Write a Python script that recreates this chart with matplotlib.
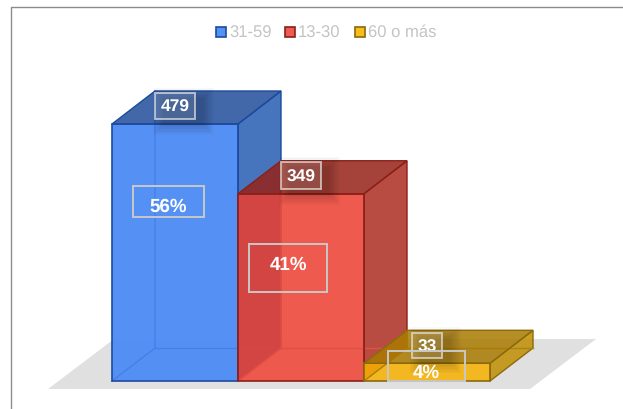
import matplotlib
matplotlib.use('Agg')
import matplotlib.pyplot as plt
from matplotlib.patches import Polygon, Rectangle
from matplotlib.transforms import Affine2D

plt.rcParams['font.family'] = ['Liberation Sans', 'DejaVu Sans']
plt.rcParams['text.hinting'] = 'none'

categories = ['31-59', '13-30', '60 o más']
values = [479, 349, 33]
percents = ['56%', '41%', '4%']

# base colours, all faces get ALPHA so that what is behind shows through
front_colors = ['#377ef3', '#eb3d2e', '#f7b000']
top_colors = ['#214e9a', '#952218', '#a97a00']
side_colors = ['#275db2', '#ad2d21', '#c08e00']
edge_colors = ['#1c4a9e', '#8a2018', '#8a6a0c']
back_colors = ['#4580ea', '#e24f43', '#a88410']
legend_colors = ['#5591f5', '#ee5a4d', '#f8bc1c']
ALPHA = 0.85

W, H = 623, 409
BAR_PX = 126.0
UNIT_PX = 257.0 / 479
X0_PX = 112.0
Y0_PX = 381.0
DEPTH_X = 43.0 / BAR_PX
DEPTH_Y = 33.0 / UNIT_PX

fig = plt.figure(figsize=(W / 100, H / 100), dpi=100)
ax = fig.add_axes([0, 0, 1, 1])
ax.set_xlim(-X0_PX / BAR_PX, (W - X0_PX) / BAR_PX)
ax.set_ylim(-(H - Y0_PX) / UNIT_PX, Y0_PX / UNIT_PX)
ax.axis('off')

# pixel coords, y going down, for the things that are not data
px = Affine2D().scale(1, -1).translate(0, H)

# frame
ax.plot([10.5, 10.5, W], [H, 6.5, 6.5], color='#8c8c8c', lw=1.0, transform=px, zorder=1)

# floor
ax.add_patch(Polygon([(48, 389), (530, 389), (596, 339), (114, 339)], closed=True,
                     fc='#e0e0e0', ec='none', transform=px, zorder=1))
# the floor hardly shows through the two tall bars
floor_top = 42 / UNIT_PX
ax.add_patch(Polygon([(0, 0), (2, 0), (2 + DEPTH_X, DEPTH_Y), (2 + DEPTH_X, floor_top), (0, floor_top)],
                     closed=True, fc='white', ec='none', alpha=0.85, zorder=2))


def draw_bar(i, v, z):
    x0, x1 = i, i + 1
    dx, dy = DEPTH_X, DEPTH_Y
    # side
    ax.add_patch(Polygon([(x1, 0), (x1 + dx, dy), (x1 + dx, v + dy), (x1, v)], closed=True,
                         fc=side_colors[i], ec='none', alpha=ALPHA, zorder=z + 0.2))
    ax.add_patch(Polygon([(x1, 0), (x1 + dx, dy), (x1 + dx, v + dy), (x1, v)], closed=True,
                         fc='none', ec=edge_colors[i], lw=1.0, zorder=z + 0.25))
    # front
    ax.add_patch(Polygon([(x0, 0), (x1, 0), (x1, v), (x0, v)], closed=True,
                         fc=front_colors[i], ec='none', alpha=ALPHA, zorder=z + 0.3))
    # back edges seen through the front face
    ax.plot([x0, x0 + dx, x0 + dx], [0, dy, v + dy], color=back_colors[i], lw=1.0, zorder=z + 0.32)
    ax.plot([x0 + dx, x1 + dx], [dy, dy], color=back_colors[i], lw=1.0, zorder=z + 0.32)
    ax.add_patch(Polygon([(x0, 0), (x1, 0), (x1, v), (x0, v)], closed=True,
                         fc='none', ec=edge_colors[i], lw=1.2, zorder=z + 0.35))
    # top
    ax.add_patch(Polygon([(x0, v), (x1, v), (x1 + dx, v + dy), (x0 + dx, v + dy)], closed=True,
                         fc=top_colors[i], ec='none', alpha=ALPHA, zorder=z + 0.4))
    ax.add_patch(Polygon([(x0, v), (x1, v), (x1 + dx, v + dy), (x0 + dx, v + dy)], closed=True,
                         fc='none', ec=edge_colors[i], lw=1.0, zorder=z + 0.45))


for i, v in enumerate(values):
    draw_bar(i, v, 3 + i)

# value labels sit on the top face, percent labels on the front
value_box_w = [40, 40, 30]
value_box_h = [26, 27, 25]
pct_cx = [168, 288, 426]
pct_cy = [201.5, 268, 366]
pct_text_dy = [3.5, -5, 4.5]
pct_box_w = [71, 78, 77]
pct_box_h = [31, 48, 30]

for i, v in enumerate(values):
    cx = X0_PX + (i + 0.5) * BAR_PX
    cy = Y0_PX - v * UNIT_PX - 18
    w, h = value_box_w[i], value_box_h[i]
    z = 10 + i
    # soft shadow
    for grow in range(0, 24, 3):
        ax.add_patch(Rectangle((cx - w / 2 + 8 - grow / 2, cy - h / 2 + 5 - grow / 2), w + grow, h + grow,
                               fc='black', ec='none', alpha=0.022, transform=px, zorder=z))
    ax.add_patch(Rectangle((cx - w / 2, cy - h / 2), w, h, fc='white', ec='none', alpha=0.12,
                           transform=px, zorder=z + 0.1))
    ax.add_patch(Rectangle((cx - w / 2, cy - h / 2), w, h, fill=False, ec='#e4e4e4', lw=1.4, alpha=0.7,
                           transform=px, zorder=z + 0.1))
    ax.text(cx, cy, str(v), color='white', fontsize=12.5, fontweight='bold', ha='center',
            va='center_baseline', transform=px, zorder=z + 0.2)

for i, p in enumerate(percents):
    ax.add_patch(Rectangle((pct_cx[i] - pct_box_w[i] / 2, pct_cy[i] - pct_box_h[i] / 2),
                           pct_box_w[i], pct_box_h[i], fill=False, ec='#c8c8c8', lw=1.4,
                           transform=px, zorder=14))
    ax.text(pct_cx[i], pct_cy[i] + pct_text_dy[i], p, color='white', fontsize=13.5, fontweight='bold',
            ha='center', va='center_baseline', transform=px, zorder=15)

# legend
legend_x = [216, 285, 355]
legend_baseline = [38, 38, 36.5]  # agg rounds the last one a bit low
for i, c in enumerate(categories):
    ax.add_patch(Rectangle((legend_x[i], 27), 10, 10, fc=legend_colors[i], ec=edge_colors[i], lw=1.2,
                           transform=px, zorder=20))
    ax.text(legend_x[i] + 13, legend_baseline[i], c, color='#c4c4c4', fontsize=12, ha='left', va='baseline',
            transform=px, zorder=20)

plt.savefig('out.png', dpi=100)
